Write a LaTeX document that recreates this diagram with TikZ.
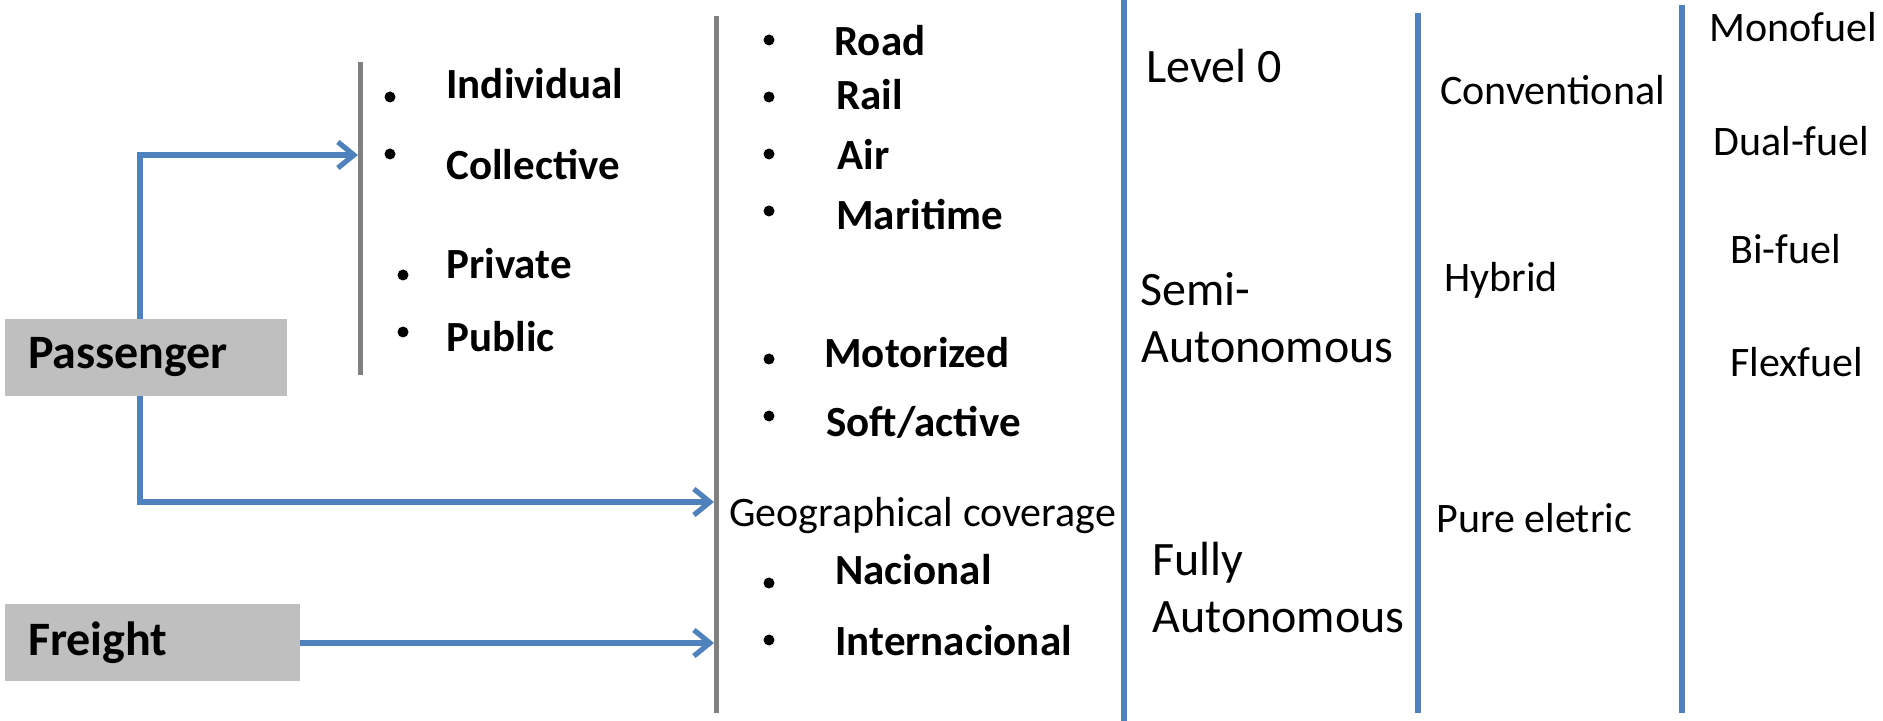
\documentclass[tikz,border=0pt]{standalone}
\usepackage{fontspec}
\setmainfont{Carlito}
\usetikzlibrary{arrows.meta}
\definecolor{linkblue}{HTML}{4F81BD}
\definecolor{railgrey}{HTML}{808080}
\definecolor{boxgrey}{HTML}{BFBFBF}

\begin{document}
\begin{tikzpicture}[x=0.5pt,y=-0.5pt,
  item/.style={anchor=base west,inner sep=0pt,font=\fontsize{21.5}{26}\selectfont\bfseries},
  plain/.style={anchor=base west,inner sep=0pt,font=\fontsize{21}{25}\selectfont},
  big/.style={anchor=base west,inner sep=0pt,font=\fontsize{24}{28}\selectfont},
  dot/.style={circle,fill=black,inner sep=0pt,minimum size=5.5pt},
  catbox/.style={fill=boxgrey,minimum height=38.5pt,inner xsep=11.5pt,inner ysep=0pt,
                 align=left,font=\fontsize{24}{28}\selectfont\bfseries},
  divider/.style={line width=2.5pt,railgrey},
  bluebar/.style={line width=3pt,linkblue},
  flow/.style={line width=2.6pt,linkblue,-{Straight Barb[length=8pt,width=13pt,line width=2.6pt]}}
]
\useasboundingbox (0,0) rectangle (1883,721);

% category boxes
\node[catbox,text width=118pt] (pass) at (146,357.5) {Passenger};
\node[catbox,text width=124.5pt] (freight) at (152.5,642.5) {Freight};

% vertical dividers
\coordinate (d1top) at (360,62);  \coordinate (d1bot) at (360,375);
\coordinate (d2top) at (716,16);  \coordinate (d2bot) at (716,713);
\coordinate (b1top) at (1124,0);  \coordinate (b1bot) at (1124,721);
\coordinate (b2top) at (1418,13); \coordinate (b2bot) at (1418,713);
\coordinate (b3top) at (1682,5);  \coordinate (b3bot) at (1682,713);
\draw[divider] (d1top) -- (d1bot);
\draw[divider] (d2top) -- (d2bot);
\draw[bluebar] (b1top) -- (b1bot);
\draw[bluebar] (b2top) -- (b2bot);
\draw[bluebar] (b3top) -- (b3bot);

% arrow ends on the dividers
\coordinate (usein) at (358,155);
\coordinate (geoin) at (714,502);
\coordinate (frin)  at (714,643);

% connectors
\draw[flow] ([xshift=-3pt]pass.north) |- (usein);
\draw[flow] ([xshift=-3pt]pass.south) |- (geoin);
\draw[flow] (freight.east |- frin) -- (frin);

% passenger use
\node[dot] (bInd) at (390,97) {};  \node[item] (tInd) at (446,99) {Individual};
\node[dot] (bCol) at (390,154) {}; \node[item] (tCol) at (446,180) {Collective};
\node[dot] (bPri) at (403,275) {}; \node[item] (tPri) at (446,279) {Private};
\node[dot] (bPub) at (403,332) {}; \node[item] (tPub) at (446,351) {Public};

% modes and coverage
\node[dot] (bRoa) at (769,40) {};  \node[item] (tRoa) at (834,56) {Road};
\node[dot] (bRai) at (769,97) {};  \node[item] (tRai) at (836,110) {Rail};
\node[dot] (bAir) at (769,154) {}; \node[item] (tAir) at (837,170) {Air};
\node[dot] (bMar) at (769,211) {}; \node[item] (tMar) at (836,230) {Maritime};
\node[dot] (bMot) at (769,359) {}; \node[item] (tMot) at (824,368) {Motorized};
\node[dot] (bSof) at (769,416) {}; \node[item] (tSof) at (826,437) {Soft/active};
\node[plain] (geo) at (729,526) {Geographical coverage};
\node[dot] (bNac) at (769,583) {}; \node[item] (tNac) at (835,584) {Nacional};
\node[dot] (bInt) at (769,640) {}; \node[item] (tInt) at (835,655) {Internacional};

% automation levels
\node[big] (lvl0) at (1146,83) {Level 0};
\node[big] (semiA) at (1140,306) {Semi-};
\node[big] (semiB) at (1141,363) {Autonomous};
\node[big] (fullA) at (1152,575) {Fully};
\node[big] (fullB) at (1152,632) {Autonomous};

% powertrain
\node[plain] (conv) at (1440,105) {Conventional};
\node[plain] (hyb)  at (1444,292) {Hybrid};
\node[plain] (elec) at (1436,532) {Pure eletric};

% fuel
\node[plain] (mono) at (1709,42)  {Monofuel};
\node[plain] (dual) at (1713,156) {Dual-fuel};
\node[plain] (bi)   at (1730,264) {Bi-fuel};
\node[plain] (flex) at (1730,377) {Flexfuel};
\end{tikzpicture}
\end{document}
